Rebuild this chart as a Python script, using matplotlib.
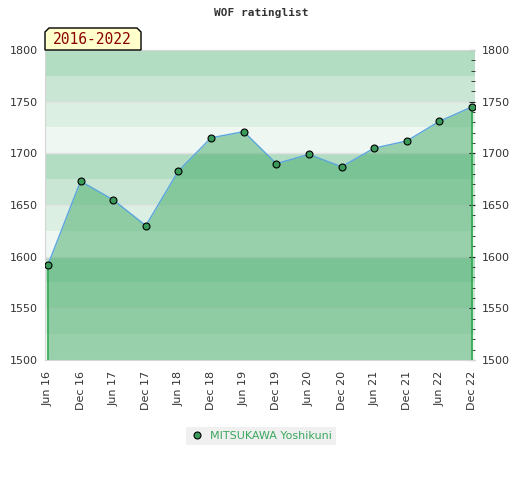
import numpy as np
import matplotlib.pyplot as plt
from matplotlib.patches import Polygon
from matplotlib.ticker import MultipleLocator

periods = ['Jun 16', 'Dec 16', 'Jun 17', 'Dec 17', 'Jun 18', 'Dec 18', 'Jun 19',
           'Dec 19', 'Jun 20', 'Dec 20', 'Jun 21', 'Dec 21', 'Jun 22', 'Dec 22']
ratings = [1592, 1673, 1655, 1630, 1683, 1715, 1721,
           1690, 1699, 1687, 1705, 1712, 1731, 1745]
player = 'MITSUKAWA Yoshikuni'
span_label = '2016-2022'
title = 'WOF ratinglist'
ymin, ymax = 1500, 1800

W, H = 520, 480
fig = plt.figure(figsize=(W / 100, H / 100), dpi=100)
ax = fig.add_axes([45 / W, 1 - 360 / H, 430 / W, 310 / H])

x = np.arange(len(periods))

# background stripes, 25 points each
band_cols = ['#eef7f1', '#dcefe3', '#c8e6d3', '#b3ddc3']
for i, lo in enumerate(range(ymin, ymax, 25)):
    ax.axhspan(lo, lo + 25, color=band_cols[i % 4], lw=0, zorder=0)
for g in range(ymin + 50, ymax, 50):
    ax.axhline(g, color='#e2e2e2', lw=1, zorder=0.5)

ax.fill_between(x, ratings, ymin, color='#43ab67', alpha=0.5, lw=0, zorder=1)
ax.vlines([x[0], x[-1]], ymin, [ratings[0], ratings[-1]], color='#2ea84f', lw=1.2, zorder=2)
ax.plot(x, ratings, color='#5aa5dc', lw=1, zorder=3)
pts, = ax.plot(x, ratings, ls='none', marker='o', ms=5, mfc='#3a9a5a',
               mec='black', mew=0.8, zorder=4, label=player)

ax.set_xlim(-0.09, len(periods) - 1 + 0.09)
ax.set_ylim(ymin, ymax)
ax.set_xticks(x)
ax.set_xticklabels(periods, rotation=90, fontsize=8, color='#333333')
ax.tick_params(axis='x', length=0, pad=8)

ax.yaxis.set_major_locator(MultipleLocator(50))
ax.yaxis.set_minor_locator(MultipleLocator(10))
ax.tick_params(axis='y', which='both', left=False, right=True, labelleft=True,
               labelright=True, direction='in', colors='#222222', labelsize=8)
ax.tick_params(axis='y', which='major', length=4, pad=5)
ax.tick_params(axis='y', which='minor', length=3)
for lab in ax.get_yticklabels():
    lab.set_color('#333333')

for s in ['left', 'top', 'bottom']:
    ax.spines[s].set_color('#d6d6d6')
ax.spines['right'].set_visible(False)

fig.text(261 / W, 1 - 13 / H, title, ha='center', va='center', fontsize=8,
         family='DejaVu Sans Mono', weight='bold', color='#333333')

# period tag with clipped top corners
tag = [(45, 50), (45, 32), (49, 28), (137, 28), (141, 32), (141, 50)]
fig.patches.append(Polygon([(px / W, 1 - py / H) for px, py in tag], closed=True,
                           transform=fig.transFigure, facecolor='#ffffcc',
                           edgecolor='black', lw=1, zorder=5))
fig.text(92 / W, 1 - 40 / H, span_label, ha='center', va='center', fontsize=10.5,
         family='DejaVu Sans Mono', color='#8b0000', zorder=6)

leg = fig.legend(handles=[pts], loc='center', bbox_to_anchor=(261 / W, 1 - 436 / H),
                 fontsize=8, frameon=True, fancybox=False, handlelength=1.2,
                 handletextpad=0.6, borderpad=0.4, borderaxespad=0,
                 labelcolor='#3aa85e')
leg.get_frame().set_facecolor('#f0f0f0')
leg.get_frame().set_edgecolor('none')
leg.get_frame().set_alpha(1)

fig.savefig('out.png', dpi=100)
